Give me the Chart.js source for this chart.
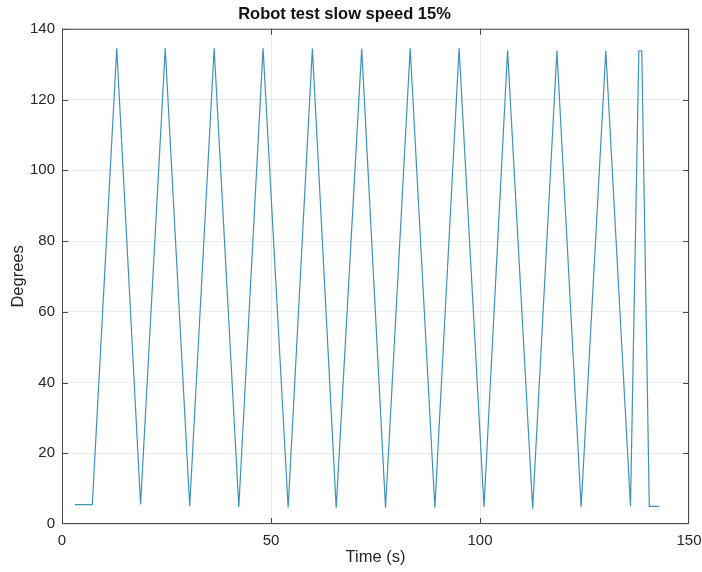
<!DOCTYPE html>
<html lang="en">
<head>
  <meta charset="UTF-8" />
  <title>Robot test slow speed 15%</title>
  <style>
    html, body {
      margin: 0;
      padding: 0;
      background: #fff;
    }

    #chart {
      display: block;
    }
  </style>
</head>
<body>

<canvas id="chart" width="702" height="572"></canvas>

<script src="https://cdn.jsdelivr.net/npm/chart.js"></script>

<script>
  // time (s) / joint angle (degrees)
  const times = [
    3.1, 7.25, 13.1, 18.8, 24.7, 30.55, 36.4, 42.3, 48.1, 54.1,
    59.9, 65.6, 71.7, 77.4, 83.3, 89.2, 95.0, 100.95, 106.6, 112.6,
    118.4, 124.2, 130.1, 136.0, 138.0, 138.7, 140.5, 142.9
  ];
  const degrees = [
    5.5, 5.5, 134.5, 5.5, 134.5, 5.0, 134.5, 4.8, 134.5, 4.6,
    134.4, 4.6, 134.4, 4.6, 134.5, 4.6, 134.5, 4.8, 133.9, 4.3,
    133.8, 4.8, 133.7, 5.0, 133.8, 133.8, 5.0, 5.0
  ];
  const xTicks = [0, 50, 100, 150];
  const yTicks = [0, 20, 40, 60, 80, 100, 120, 140];

  const FONT = '"Liberation Sans", Arial, Helvetica, sans-serif';
  const AXIS_COLOR = '#262626';

  const points = times.map((t, i) => ({ x: t, y: degrees[i] }));

  // matlab style: full box and ticks pointing inwards
  const boxPlugin = {
    id: 'box',
    afterDraw(chart) {
      const { ctx, chartArea: a, scales } = chart;
      const len = 6;
      ctx.save();
      ctx.strokeStyle = '#4a4a4a';
      ctx.lineWidth = 1;
      ctx.strokeRect(a.left + 0.5, a.top + 0.5, a.right - a.left - 1, a.bottom - a.top - 1);
      ctx.beginPath();
      for (const v of xTicks) {
        let px = Math.round(scales.x.getPixelForValue(v)) + 0.5;
        px = Math.min(Math.max(px, a.left + 0.5), a.right - 0.5);
        ctx.moveTo(px, a.bottom);
        ctx.lineTo(px, a.bottom - len);
        ctx.moveTo(px, a.top);
        ctx.lineTo(px, a.top + len);
      }
      for (const v of yTicks) {
        let py = Math.round(scales.y.getPixelForValue(v)) + 0.5;
        py = Math.min(Math.max(py, a.top + 0.5), a.bottom - 0.5);
        ctx.moveTo(a.left, py);
        ctx.lineTo(a.left + len, py);
        ctx.moveTo(a.right, py);
        ctx.lineTo(a.right - len, py);
      }
      ctx.stroke();
      ctx.restore();
    }
  };

  new Chart(document.getElementById('chart'), {
    type: 'scatter',
    data: {
      datasets: [{
        data: points,
        showLine: true,
        borderColor: '#3d93b8',
        borderWidth: 1.2,
        pointRadius: 0,
        tension: 0
      }]
    },
    options: {
      responsive: false,
      animation: false,
      layout: { padding: { left: 0, right: 13, top: 0, bottom: 0 } },
      plugins: {
        legend: { display: false },
        tooltip: { enabled: false },
        title: {
          display: true,
          text: 'Robot test slow speed 15%',
          color: '#111',
          font: { family: FONT, size: 16.5, weight: 'bold' },
          padding: { top: 5, bottom: 4 }
        }
      },
      scales: {
        x: {
          type: 'linear',
          min: 0,
          max: 150,
          afterBuildTicks: (s) => { s.ticks = xTicks.map(v => ({ value: v })); },
          afterFit: (s) => {
            s.height = 48;
            s.paddingLeft = 0;
            s.paddingRight = 0;
          },
          grid: { color: 'rgba(38,38,38,0.09)', drawTicks: false },
          border: { display: false },
          ticks: {
            color: AXIS_COLOR,
            font: { family: FONT, size: 15 },
            padding: 8,
            maxRotation: 0
          },
          title: {
            display: true,
            text: 'Time (s)',
            color: AXIS_COLOR,
            font: { family: FONT, size: 16.5 },
            padding: { top: 0, bottom: 5 }
          }
        },
        y: {
          type: 'linear',
          min: 0,
          max: 140,
          afterBuildTicks: (s) => { s.ticks = yTicks.map(v => ({ value: v })); },
          afterFit: (s) => {
            s.width = 62;
            s.paddingTop = 0;
            s.paddingBottom = 0;
          },
          grid: { color: 'rgba(38,38,38,0.09)', drawTicks: false },
          border: { display: false },
          ticks: {
            color: AXIS_COLOR,
            font: { family: FONT, size: 15 },
            padding: 7
          },
          title: {
            display: true,
            text: 'Degrees',
            color: AXIS_COLOR,
            font: { family: FONT, size: 16.5 },
            padding: { top: 8.5, bottom: 0 }
          }
        }
      }
    },
    plugins: [boxPlugin]
  });
</script>

</body>
</html>
